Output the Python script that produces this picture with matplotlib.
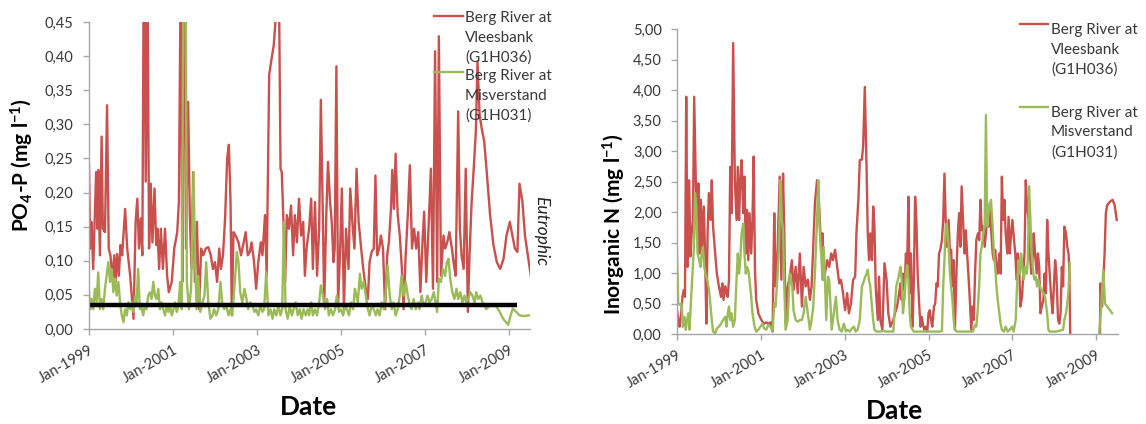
import numpy as np
import matplotlib
matplotlib.use("Agg")
import matplotlib.pyplot as plt
from matplotlib.lines import Line2D
from matplotlib.ticker import FuncFormatter, FixedLocator

plt.rcParams['font.family'] = ['Lato', 'DejaVu Sans']
plt.rcParams['mathtext.fontset'] = 'custom'
plt.rcParams['mathtext.rm'] = 'Lato'
plt.rcParams['mathtext.bf'] = 'Lato:bold'
plt.rcParams['mathtext.it'] = 'Lato:italic'

# ---------------------------------------------------------------- data
stations = ["Berg River at\nVleesbank\n(G1H036)",
            "Berg River at\nMisverstand\n(G1H031)"]
year_ticks = [1999, 2001, 2003, 2005, 2007, 2009]
year_labels = ["Jan-1999", "Jan-2001", "Jan-2003", "Jan-2005", "Jan-2007", "Jan-2009"]
eutrophic_limit = 0.035          # mg/l PO4-P
eutrophic_span = [1999.0, 2009.18]

# PO4-P, Vleesbank (decimal year, mg/l)
p_vlees_t = [
    1999.00, 1999.03, 1999.06, 1999.10, 1999.13, 1999.17, 1999.20, 1999.22, 1999.26, 1999.30,
    1999.33, 1999.38, 1999.43, 1999.47, 1999.51, 1999.56, 1999.60, 1999.63, 1999.67, 1999.71,
    1999.75, 1999.79, 1999.86, 1999.91, 1999.98, 2000.06, 2000.11, 2000.15, 2000.19, 2000.23,
    2000.27, 2000.31, 2000.35, 2000.39, 2000.43, 2000.47, 2000.51, 2000.56, 2000.60, 2000.63,
    2000.67, 2000.71, 2000.76, 2000.81, 2000.86, 2000.90, 2000.97, 2001.03, 2001.10, 2001.14,
    2001.19, 2001.22, 2001.26, 2001.31, 2001.36, 2001.40, 2001.44, 2001.48, 2001.52, 2001.57,
    2001.62, 2001.67, 2001.72, 2001.78, 2001.84, 2001.90, 2001.95, 2002.00, 2002.05, 2002.10,
    2002.14, 2002.19, 2002.24, 2002.29, 2002.33, 2002.37, 2002.40, 2002.44, 2002.49, 2002.56,
    2002.62, 2002.67, 2002.73, 2002.78, 2002.83, 2002.87, 2002.93, 2002.98, 2003.03, 2003.09,
    2003.13, 2003.19, 2003.23, 2003.29, 2003.35, 2003.40, 2003.44, 2003.48, 2003.52, 2003.56,
    2003.59, 2003.63, 2003.67, 2003.71, 2003.76, 2003.81, 2003.86, 2003.90, 2003.95, 2004.00,
    2004.05, 2004.10, 2004.14, 2004.18, 2004.24, 2004.29, 2004.33, 2004.38, 2004.43, 2004.48,
    2004.52, 2004.57, 2004.60, 2004.65, 2004.69, 2004.74, 2004.78, 2004.82, 2004.85, 2004.89,
    2004.93, 2004.98, 2005.02, 2005.07, 2005.12, 2005.18, 2005.22, 2005.27, 2005.32, 2005.37,
    2005.42, 2005.48, 2005.53, 2005.59, 2005.64, 2005.68, 2005.73, 2005.78, 2005.82, 2005.86,
    2005.91, 2005.95, 2006.00, 2006.05, 2006.10, 2006.14, 2006.19, 2006.22, 2006.26, 2006.30,
    2006.35, 2006.40, 2006.45, 2006.49, 2006.54, 2006.59, 2006.64, 2006.69, 2006.74, 2006.79,
    2006.84, 2006.89, 2006.94, 2006.98, 2007.03, 2007.08, 2007.14, 2007.19, 2007.24, 2007.29,
    2007.33, 2007.38, 2007.44, 2007.48, 2007.53, 2007.58, 2007.64, 2007.68, 2007.73, 2007.79,
    2007.83, 2007.87, 2007.92, 2007.97, 2008.02, 2008.06, 2008.11, 2008.16, 2008.21, 2008.25,
    2008.30, 2008.35, 2008.41, 2008.47, 2008.55, 2008.63, 2008.71, 2008.79, 2008.87, 2008.94,
    2009.02, 2009.08, 2009.14, 2009.20, 2009.25, 2009.32, 2009.38, 2009.45, 2009.52]
p_vlees = [
    0.240, 0.118, 0.157, 0.088, 0.147, 0.230, 0.147, 0.233, 0.108, 0.282,
    0.147, 0.142, 0.328, 0.118, 0.108, 0.074, 0.108, 0.069, 0.110, 0.078,
    0.123, 0.108, 0.176, 0.118, 0.078, 0.015, 0.157, 0.191, 0.118, 0.162,
    0.108, 0.620, 0.216, 0.550, 0.118, 0.213, 0.127, 0.206, 0.123, 0.147,
    0.088, 0.147, 0.088, 0.147, 0.078, 0.054, 0.069, 0.118, 0.142, 0.186,
    0.580, 0.069, 0.600, 0.118, 0.333, 0.167, 0.088, 0.230, 0.069, 0.157,
    0.029, 0.118, 0.108, 0.118, 0.120, 0.108, 0.088, 0.098, 0.069, 0.118,
    0.088, 0.108, 0.162, 0.250, 0.270, 0.186, 0.020, 0.142, 0.137, 0.127,
    0.108, 0.123, 0.142, 0.108, 0.113, 0.127, 0.098, 0.059, 0.098, 0.127,
    0.108, 0.167, 0.078, 0.373, 0.397, 0.417, 0.451, 0.520, 0.520, 0.235,
    0.230, 0.157, 0.069, 0.167, 0.147, 0.181, 0.108, 0.167, 0.127, 0.191,
    0.137, 0.157, 0.078, 0.118, 0.147, 0.191, 0.088, 0.186, 0.078, 0.147,
    0.336, 0.157, 0.034, 0.167, 0.245, 0.186, 0.157, 0.098, 0.118, 0.385,
    0.034, 0.118, 0.206, 0.029, 0.147, 0.088, 0.206, 0.157, 0.118, 0.235,
    0.157, 0.118, 0.088, 0.059, 0.044, 0.098, 0.113, 0.118, 0.225, 0.108,
    0.118, 0.137, 0.118, 0.029, 0.108, 0.127, 0.176, 0.233, 0.176, 0.257,
    0.167, 0.137, 0.088, 0.029, 0.108, 0.167, 0.240, 0.118, 0.147, 0.118,
    0.142, 0.054, 0.127, 0.172, 0.069, 0.142, 0.235, 0.059, 0.407, 0.069,
    0.429, 0.078, 0.137, 0.118, 0.127, 0.142, 0.118, 0.098, 0.078, 0.319,
    0.147, 0.108, 0.088, 0.235, 0.025, 0.108, 0.186, 0.235, 0.289, 0.392,
    0.314, 0.294, 0.275, 0.230, 0.167, 0.123, 0.098, 0.088, 0.103, 0.137,
    0.157, 0.137, 0.118, 0.113, 0.213, 0.186, 0.137, 0.108, 0.078]

# PO4-P, Misverstand (decimal year, mg/l)
p_misv_t = [
    1999.00, 1999.03, 1999.06, 1999.10, 1999.14, 1999.18, 1999.22, 1999.26, 1999.30, 1999.34,
    1999.38, 1999.42, 1999.46, 1999.50, 1999.54, 1999.58, 1999.62, 1999.66, 1999.70, 1999.74,
    1999.78, 1999.82, 1999.86, 1999.90, 1999.94, 1999.98, 2000.02, 2000.06, 2000.10, 2000.13,
    2000.17, 2000.21, 2000.25, 2000.29, 2000.33, 2000.37, 2000.41, 2000.45, 2000.49, 2000.53,
    2000.57, 2000.61, 2000.65, 2000.69, 2000.73, 2000.77, 2000.81, 2000.85, 2000.89, 2000.93,
    2000.97, 2001.01, 2001.05, 2001.09, 2001.13, 2001.17, 2001.21, 2001.25, 2001.29, 2001.33,
    2001.38, 2001.43, 2001.49, 2001.52, 2001.56, 2001.60, 2001.65, 2001.70, 2001.75, 2001.79,
    2001.84, 2001.89, 2001.94, 2001.98, 2002.03, 2002.08, 2002.13, 2002.17, 2002.22, 2002.27,
    2002.32, 2002.37, 2002.41, 2002.46, 2002.52, 2002.56, 2002.60, 2002.65, 2002.70, 2002.75,
    2002.79, 2002.84, 2002.89, 2002.94, 2002.98, 2003.03, 2003.08, 2003.13, 2003.17, 2003.22,
    2003.27, 2003.32, 2003.37, 2003.41, 2003.46, 2003.51, 2003.56, 2003.60, 2003.64, 2003.68,
    2003.73, 2003.78, 2003.83, 2003.87, 2003.92, 2003.97, 2004.02, 2004.06, 2004.11, 2004.16,
    2004.21, 2004.24, 2004.29, 2004.33, 2004.38, 2004.43, 2004.48, 2004.52, 2004.57, 2004.62,
    2004.67, 2004.71, 2004.76, 2004.81, 2004.86, 2004.90, 2004.95, 2005.00, 2005.05, 2005.10,
    2005.14, 2005.19, 2005.24, 2005.29, 2005.33, 2005.40, 2005.45, 2005.49, 2005.54, 2005.59,
    2005.64, 2005.68, 2005.73, 2005.78, 2005.83, 2005.87, 2005.92, 2005.97, 2006.02, 2006.06,
    2006.11, 2006.16, 2006.21, 2006.25, 2006.30, 2006.35, 2006.40, 2006.44, 2006.49, 2006.54,
    2006.59, 2006.64, 2006.68, 2006.73, 2006.78, 2006.83, 2006.87, 2006.92, 2006.97, 2007.02,
    2007.06, 2007.11, 2007.16, 2007.21, 2007.25, 2007.29, 2007.33, 2007.38, 2007.43, 2007.48,
    2007.52, 2007.56, 2007.60, 2007.65, 2007.70, 2007.75, 2007.79, 2007.84, 2007.89, 2007.94,
    2007.98, 2008.03, 2008.08, 2008.13, 2008.18, 2008.22, 2008.27, 2008.32, 2008.37, 2008.41,
    2008.46, 2008.55, 2008.62, 2008.70, 2008.78, 2008.86, 2008.93, 2008.98, 2009.03, 2009.09,
    2009.16, 2009.25, 2009.35, 2009.49]
p_misv = [
    0.054, 0.029, 0.044, 0.029, 0.059, 0.039, 0.083, 0.029, 0.044, 0.029,
    0.059, 0.078, 0.098, 0.069, 0.088, 0.054, 0.074, 0.049, 0.069, 0.039,
    0.020, 0.010, 0.029, 0.020, 0.039, 0.029, 0.039, 0.025, 0.049, 0.034,
    0.088, 0.029, 0.034, 0.020, 0.034, 0.029, 0.049, 0.054, 0.044, 0.069,
    0.049, 0.044, 0.059, 0.029, 0.039, 0.029, 0.020, 0.034, 0.025, 0.034,
    0.020, 0.029, 0.039, 0.025, 0.034, 0.069, 0.029, 0.560, 0.700, 0.069,
    0.029, 0.059, 0.230, 0.118, 0.029, 0.078, 0.025, 0.039, 0.049, 0.098,
    0.039, 0.015, 0.020, 0.029, 0.020, 0.029, 0.069, 0.039, 0.029, 0.034,
    0.020, 0.029, 0.020, 0.059, 0.113, 0.098, 0.054, 0.039, 0.059, 0.044,
    0.029, 0.039, 0.034, 0.025, 0.029, 0.020, 0.034, 0.025, 0.029, 0.083,
    0.020, 0.029, 0.015, 0.029, 0.020, 0.034, 0.020, 0.029, 0.157, 0.029,
    0.015, 0.034, 0.020, 0.029, 0.039, 0.020, 0.029, 0.015, 0.029, 0.020,
    0.029, 0.020, 0.039, 0.020, 0.029, 0.020, 0.039, 0.064, 0.049, 0.029,
    0.044, 0.020, 0.029, 0.020, 0.029, 0.049, 0.025, 0.029, 0.020, 0.034,
    0.029, 0.020, 0.039, 0.029, 0.059, 0.039, 0.081, 0.059, 0.069, 0.049,
    0.029, 0.020, 0.034, 0.029, 0.020, 0.029, 0.020, 0.039, 0.029, 0.049,
    0.093, 0.049, 0.029, 0.039, 0.020, 0.029, 0.049, 0.078, 0.049, 0.069,
    0.049, 0.034, 0.029, 0.044, 0.029, 0.039, 0.029, 0.049, 0.034, 0.039,
    0.049, 0.039, 0.044, 0.054, 0.039, 0.025, 0.074, 0.069, 0.088, 0.078,
    0.098, 0.103, 0.074, 0.054, 0.044, 0.059, 0.044, 0.054, 0.039, 0.049,
    0.039, 0.044, 0.054, 0.049, 0.039, 0.054, 0.044, 0.049, 0.039, 0.034,
    0.029, 0.035, 0.036, 0.033, 0.025, 0.015, 0.010, 0.006, 0.018, 0.030,
    0.026, 0.020, 0.019, 0.020]

# Inorganic N, Vleesbank (decimal year, mg/l); nan marks the sampling gap
n_vlees_t = [
    1999.00, 1999.03, 1999.06, 1999.10, 1999.13, 1999.16, 1999.19, 1999.22, 1999.25, 1999.29,
    1999.32, 1999.35, 1999.38, 1999.41, 1999.45, 1999.48, 1999.51, 1999.54, 1999.57, 1999.60,
    1999.64, 1999.67, 1999.70, 1999.73, 1999.76, 1999.80, 1999.83, 1999.86, 1999.91, 1999.95,
    2000.00, 2000.05, 2000.08, 2000.11, 2000.15, 2000.18, 2000.21, 2000.24, 2000.27, 2000.30,
    2000.34, 2000.38, 2000.42, 2000.45, 2000.48, 2000.51, 2000.54, 2000.58, 2000.61, 2000.64,
    2000.67, 2000.70, 2000.73, 2000.77, 2000.80, 2000.83, 2000.86, 2000.89, 2000.94, 2000.99,
    2001.04, 2001.08, 2001.13, 2001.18, 2001.23, 2001.28, 2001.32, 2001.35, 2001.40, 2001.45,
    2001.49, 2001.53, 2001.56, 2001.59, 2001.64, 2001.69, 2001.74, 2001.78, 2001.83, 2001.88,
    2001.93, 2001.98, 2002.02, 2002.07, 2002.12, 2002.17, 2002.21, 2002.25, 2002.29, 2002.34,
    2002.37, 2002.40, 2002.44, 2002.47, 2002.50, 2002.53, 2002.58, 2002.63, 2002.68, 2002.72,
    2002.77, 2002.82, 2002.87, 2002.91, 2002.96, 2003.01, 2003.06, 2003.10, 2003.15, 2003.20,
    2003.25, 2003.28, 2003.33, 2003.36, 2003.41, 2003.44, 2003.48, 2003.52, 2003.55, 2003.58,
    2003.61, 2003.65, 2003.68, 2003.71, 2003.74, 2003.79, 2003.82, 2003.85, 2003.90, 2003.95,
    2004.00, 2004.04, 2004.09, 2004.16, 2004.20, 2004.25, 2004.30, 2004.33, 2004.36, 2004.39,
    2004.43, 2004.46, 2004.49, 2004.52, 2004.55, 2004.58, 2004.62, 2004.65, 2004.68, 2004.71,
    2004.74, 2004.78, 2004.81, 2004.84, 2004.87, 2004.90, 2004.93, 2004.97, 2005.00, 2005.03,
    2005.06, 2005.09, 2005.13, 2005.16, 2005.19, 2005.22, 2005.25, 2005.28, 2005.32, 2005.35,
    2005.38, 2005.41, 2005.44, 2005.48, 2005.51, 2005.54, 2005.57, 2005.60, 2005.63, 2005.67,
    2005.70, 2005.73, 2005.76, 2005.79, 2005.83, 2005.86, 2005.89, 2005.92, 2005.95, 2005.99,
    2006.02, 2006.05, 2006.08, 2006.11, 2006.14, 2006.18, 2006.21, 2006.24, 2006.27, 2006.30,
    2006.34, 2006.37, 2006.40, 2006.43, 2006.46, 2006.49, 2006.53, 2006.56, 2006.59, 2006.62,
    2006.65, 2006.69, 2006.72, 2006.75, 2006.78, 2006.81, 2006.84, 2006.88, 2006.91, 2006.94,
    2006.97, 2007.00, 2007.04, 2007.07, 2007.10, 2007.13, 2007.16, 2007.19, 2007.23, 2007.26,
    2007.29, 2007.32, 2007.35, 2007.39, 2007.42, 2007.45, 2007.48, 2007.51, 2007.54, 2007.58,
    2007.61, 2007.64, 2007.67, 2007.70, 2007.74, 2007.77, 2007.80, 2007.83, 2007.86, 2007.89,
    2007.93, 2007.96, 2007.99, 2008.02, 2008.05, 2008.09, 2008.12, 2008.15, 2008.18, 2008.21,
    2008.24, 2008.28, 2008.31, 2008.34, 2008.36, 2008.38, 2008.70, 2009.09, 2009.10, 2009.14,
    2009.17, 2009.20, 2009.23, 2009.26, 2009.33, 2009.39, 2009.44, 2009.49]
n_vlees = [
    0.39, 0.23, 0.12, 0.34, 0.61, 0.72, 0.61, 3.89, 1.10, 2.52,
    1.27, 1.65, 1.87, 3.89, 2.42, 1.54, 2.47, 1.32, 2.20, 1.38,
    2.09, 1.32, 0.17, 1.65, 2.31, 1.87, 2.52, 1.76, 1.32, 0.99,
    0.78, 0.61, 0.83, 0.56, 0.78, 0.67, 0.61, 0.89, 2.74, 1.98,
    4.77, 2.52, 1.87, 2.74, 1.87, 2.52, 2.85, 1.98, 2.58, 1.32,
    2.03, 1.21, 1.98, 1.32, 1.87, 2.91, 1.05, 0.56, 0.34, 0.26,
    0.20, 0.17, 0.19, 0.17, 0.19, 0.04, 1.98, 0.78, 1.38, 2.58,
    0.89, 2.63, 1.65, 0.17, 0.78, 0.94, 1.21, 0.72, 1.10, 0.67,
    1.32, 0.45, 1.10, 0.78, 0.89, 0.56, 0.78, 1.43, 2.14, 2.52,
    2.36, 1.98, 1.32, 1.65, 0.89, 0.99, 1.21, 1.10, 1.32, 1.21,
    1.38, 1.10, 0.83, 0.89, 0.67, 0.39, 0.67, 0.34, 0.50, 0.89,
    0.94, 1.65, 2.25, 2.85, 2.86, 3.07, 4.05, 2.80, 1.65, 1.21,
    1.65, 1.21, 2.09, 1.76, 0.78, 0.23, 0.94, 0.23, 0.07, 1.16,
    0.89, 0.34, 0.12, 0.23, 0.34, 0.45, 0.67, 0.83, 0.56, 0.99,
    0.72, 1.32, 1.10, 2.25, 0.67, 1.32, 0.12, 0.89, 2.25, 1.87,
    0.99, 0.45, 0.12, 0.28, 0.15, 0.07, 0.12, 0.04, 0.34, 0.39,
    0.23, 0.12, 0.45, 0.50, 0.83, 0.78, 1.32, 1.38, 1.54, 1.87,
    2.63, 1.87, 1.43, 1.87, 1.32, 1.38, 0.78, 1.21, 0.07, 1.10,
    1.65, 1.98, 1.43, 2.42, 1.76, 1.32, 1.70, 1.32, 0.99, 0.50,
    0.07, 0.45, 0.23, 0.99, 1.54, 1.65, 1.54, 2.20, 1.70, 1.76,
    1.43, 1.65, 1.92, 1.76, 2.14, 1.76, 1.32, 1.21, 1.38, 1.10,
    0.99, 1.32, 0.99, 2.58, 1.87, 2.20, 1.65, 1.32, 1.92, 1.32,
    1.65, 1.87, 1.54, 1.32, 0.89, 1.32, 1.16, 0.45, 0.61, 0.99,
    1.32, 2.52, 2.09, 1.87, 1.32, 0.99, 1.21, 1.65, 1.32, 0.99,
    1.32, 1.10, 0.34, 0.45, 0.56, 0.99, 0.67, 1.87, 1.32, 0.99,
    0.56, 0.34, 0.78, 1.21, 0.99, 0.23, 0.17, 0.34, 1.10, 0.78,
    1.76, 1.65, 1.43, 1.32, 1.05, 0.00, np.nan, 0.00, 0.83, 0.45,
    0.89, 1.32, 1.98, 2.11, 2.17, 2.20, 2.11, 1.87]

# Inorganic N, Misverstand (decimal year, mg/l); nan marks the sampling gap
n_misv_t = [
    1999.00, 1999.03, 1999.06, 1999.11, 1999.14, 1999.18, 1999.21, 1999.24, 1999.27, 1999.30,
    1999.33, 1999.37, 1999.40, 1999.43, 1999.46, 1999.49, 1999.53, 1999.56, 1999.59, 1999.62,
    1999.65, 1999.68, 1999.72, 1999.75, 1999.78, 1999.83, 1999.86, 1999.91, 1999.95, 2000.00,
    2000.05, 2000.10, 2000.15, 2000.18, 2000.21, 2000.24, 2000.27, 2000.30, 2000.34, 2000.38,
    2000.42, 2000.45, 2000.48, 2000.51, 2000.54, 2000.58, 2000.61, 2000.64, 2000.67, 2000.70,
    2000.73, 2000.77, 2000.80, 2000.85, 2000.89, 2000.94, 2000.99, 2001.04, 2001.08, 2001.13,
    2001.18, 2001.23, 2001.28, 2001.32, 2001.35, 2001.40, 2001.43, 2001.47, 2001.50, 2001.53,
    2001.56, 2001.59, 2001.64, 2001.69, 2001.72, 2001.75, 2001.78, 2001.83, 2001.88, 2001.93,
    2001.98, 2002.02, 2002.07, 2002.12, 2002.17, 2002.21, 2002.25, 2002.29, 2002.34, 2002.37,
    2002.40, 2002.44, 2002.47, 2002.50, 2002.53, 2002.56, 2002.60, 2002.63, 2002.66, 2002.69,
    2002.74, 2002.79, 2002.83, 2002.88, 2002.93, 2002.98, 2003.03, 2003.07, 2003.12, 2003.17,
    2003.22, 2003.26, 2003.31, 2003.36, 2003.41, 2003.44, 2003.49, 2003.52, 2003.55, 2003.58,
    2003.61, 2003.65, 2003.68, 2003.71, 2003.76, 2003.84, 2003.92, 2004.00, 2004.08, 2004.16,
    2004.20, 2004.23, 2004.27, 2004.30, 2004.33, 2004.36, 2004.39, 2004.43, 2004.46, 2004.49,
    2004.52, 2004.55, 2004.58, 2004.62, 2004.65, 2004.79, 2004.95, 2005.11, 2005.27, 2005.32,
    2005.35, 2005.38, 2005.41, 2005.44, 2005.48, 2005.51, 2005.54, 2005.57, 2005.60, 2005.63,
    2005.67, 2005.83, 2005.99, 2006.06, 2006.11, 2006.14, 2006.18, 2006.21, 2006.24, 2006.27,
    2006.30, 2006.34, 2006.37, 2006.40, 2006.43, 2006.46, 2006.49, 2006.53, 2006.56, 2006.59,
    2006.62, 2006.65, 2006.69, 2006.72, 2006.75, 2006.80, 2006.84, 2006.89, 2006.94, 2006.99,
    2007.03, 2007.08, 2007.11, 2007.15, 2007.18, 2007.21, 2007.24, 2007.27, 2007.31, 2007.34,
    2007.37, 2007.40, 2007.43, 2007.46, 2007.50, 2007.53, 2007.56, 2007.59, 2007.62, 2007.66,
    2007.69, 2007.74, 2007.78, 2007.83, 2007.86, 2007.89, 2008.05, 2008.21, 2008.24, 2008.28,
    2008.31, 2008.34, 2008.37, 2008.70, 2009.07, 2009.12, 2009.17, 2009.21, 2009.26, 2009.33,
    2009.38]
n_misv = [
    1.38, 0.50, 0.48, 0.50, 0.12, 0.28, 0.07, 0.23, 0.34, 0.07,
    0.50, 0.99, 1.38, 2.31, 2.09, 1.32, 1.21, 1.10, 1.32, 1.43,
    1.10, 0.99, 0.89, 0.78, 0.61, 0.23, 0.04, 0.01, 0.09, 0.12,
    0.17, 0.23, 0.28, 0.12, 0.34, 0.45, 0.23, 0.34, 0.12, 0.23,
    0.89, 1.32, 0.99, 1.21, 1.65, 1.81, 1.32, 0.99, 1.10, 1.05,
    0.89, 0.61, 0.34, 0.12, 0.04, 0.07, 0.12, 0.17, 0.09, 0.07,
    0.15, 0.12, 0.04, 0.50, 0.45, 0.99, 1.38, 2.52, 1.87, 1.70,
    0.78, 0.07, 0.23, 0.99, 0.89, 0.78, 0.39, 0.23, 0.20, 0.23,
    0.23, 0.34, 0.61, 0.34, 0.07, 0.23, 0.45, 0.99, 1.87, 2.52,
    1.76, 1.32, 0.89, 1.43, 0.89, 0.23, 0.94, 0.89, 0.50, 0.07,
    0.34, 0.61, 0.23, 0.07, 0.04, 0.17, 0.04, 0.07, 0.04, 0.09,
    0.12, 0.04, 0.07, 0.23, 0.78, 0.83, 0.94, 0.99, 1.05, 0.89,
    0.78, 0.45, 0.23, 0.07, 0.04, 0.04, 0.05, 0.04, 0.04, 0.04,
    0.45, 0.78, 0.89, 0.99, 1.10, 0.89, 0.34, 0.61, 0.99, 1.13,
    0.89, 0.34, 0.12, 0.07, 0.04, 0.04, 0.04, 0.04, 0.04, 0.05,
    0.78, 1.21, 1.76, 1.81, 1.43, 0.99, 0.78, 0.56, 0.23, 0.07,
    0.04, 0.04, 0.04, 0.04, 0.15, 0.12, 0.45, 0.83, 1.32, 1.43,
    1.60, 1.81, 3.59, 1.76, 1.98, 2.09, 2.20, 1.76, 1.32, 1.10,
    0.78, 0.56, 0.34, 0.17, 0.07, 0.04, 0.12, 0.04, 0.07, 0.12,
    0.04, 0.23, 0.78, 1.21, 0.99, 1.32, 1.10, 0.89, 1.10, 0.99,
    1.21, 2.42, 1.87, 1.32, 0.99, 0.89, 0.94, 0.78, 0.89, 0.78,
    0.72, 0.67, 0.61, 0.34, 0.07, 0.04, 0.04, 0.07, 0.23, 0.34,
    0.50, 0.72, 1.16, np.nan, 0.00, 0.45, 1.05, 0.50, 0.45, 0.39,
    0.34]

# ---------------------------------------------------------------- style
RED = '#C9504D'
GREEN = '#9BBB59'
AXIS_GREY = '#A6A6A6'
TEXT_GREY = '#383838'
W, H = 1146, 424

fig = plt.figure(figsize=(W / 100, H / 100), dpi=100)


def px_axes(x0, y0, x1, y1):
    return fig.add_axes([x0 / W, 1 - y1 / H, (x1 - x0) / W, (y1 - y0) / H])


def style_axes(ax, ymax, ystep, xmax):
    ax.set_xlim(1999, xmax)
    ax.set_ylim(0, ymax)
    for side in ('top', 'right'):
        ax.spines[side].set_visible(False)
    for side in ('left', 'bottom'):
        ax.spines[side].set_color(AXIS_GREY)
        ax.spines[side].set_linewidth(1.0)
    ax.yaxis.set_major_locator(FixedLocator(np.round(np.arange(0, ymax + ystep / 2, ystep), 4)))
    ax.yaxis.set_major_formatter(FuncFormatter(lambda v, p: f"{v:.2f}".replace('.', ',')))
    ax.set_xticks(year_ticks)
    ax.set_xticklabels(year_labels, rotation=30, ha='right', rotation_mode='anchor')
    ax.tick_params(axis='both', colors=AXIS_GREY, labelcolor=TEXT_GREY,
                   labelsize=10.5, length=4, width=1.0, direction='out')
    ax.tick_params(axis='y', pad=7)
    ax.tick_params(axis='x', pad=6)


def legend_block(x_line0, x_line1, x_text, rows):
    for (y_line, y_text, color, label) in rows:
        fig.add_artist(Line2D([x_line0 / W, x_line1 / W], [1 - y_line / H, 1 - y_line / H],
                              transform=fig.transFigure, color=color, lw=1.7))
        fig.text(x_text / W, 1 - y_text / H, label, ha='left', va='top',
                 fontsize=11, color=TEXT_GREY, linespacing=1.5)


# ---------------------------------------------------------------- PO4-P panel
ax1 = px_axes(89, 22, 530, 329)
style_axes(ax1, 0.45, 0.05, 2009.5)
ax1.plot(p_vlees_t, p_vlees, color=RED, lw=1.7)
ax1.plot(p_misv_t, p_misv, color=GREEN, lw=1.7)
ax1.plot(eutrophic_span, [eutrophic_limit] * 2, color='black', lw=3.2, solid_capstyle='butt')
fig.text(309 / W, 1 - 407 / H, 'Date', ha='center', va='center', fontsize=19, fontweight='bold')
fig.text(22 / W, 1 - 165 / H, r'PO$_{\mathbf{4}}$-P (mg l$^{\mathbf{-1}}$)', rotation=90,
         ha='center', va='center', fontsize=15, fontweight='bold')
fig.text(541 / W, 1 - 231 / H, 'Eutrophic', rotation=270, ha='center', va='center',
         fontsize=12.5, style='italic', color='#222222')
legend_block(434, 463, 465, [(16, 11, RED, stations[0]), (72, 69, GREEN, stations[1])])

# ---------------------------------------------------------------- inorganic N panel
ax2 = px_axes(677, 29, 1118, 334)
style_axes(ax2, 5.0, 0.5, 2009.52)
ax2.plot(n_vlees_t, n_vlees, color=RED, lw=1.7)
ax2.plot(n_misv_t, n_misv, color=GREEN, lw=1.7)
fig.text(895 / W, 1 - 411 / H, 'Date', ha='center', va='center', fontsize=19, fontweight='bold')
fig.text(614 / W, 1 - 224 / H, r'Inorganic N (mg l$^{\mathbf{-1}}$)', rotation=90,
         ha='center', va='center', fontsize=15, fontweight='bold')
legend_block(1020, 1048, 1051, [(24, 23, RED, stations[0]), (107, 106, GREEN, stations[1])])

fig.savefig('out.png', dpi=100)
